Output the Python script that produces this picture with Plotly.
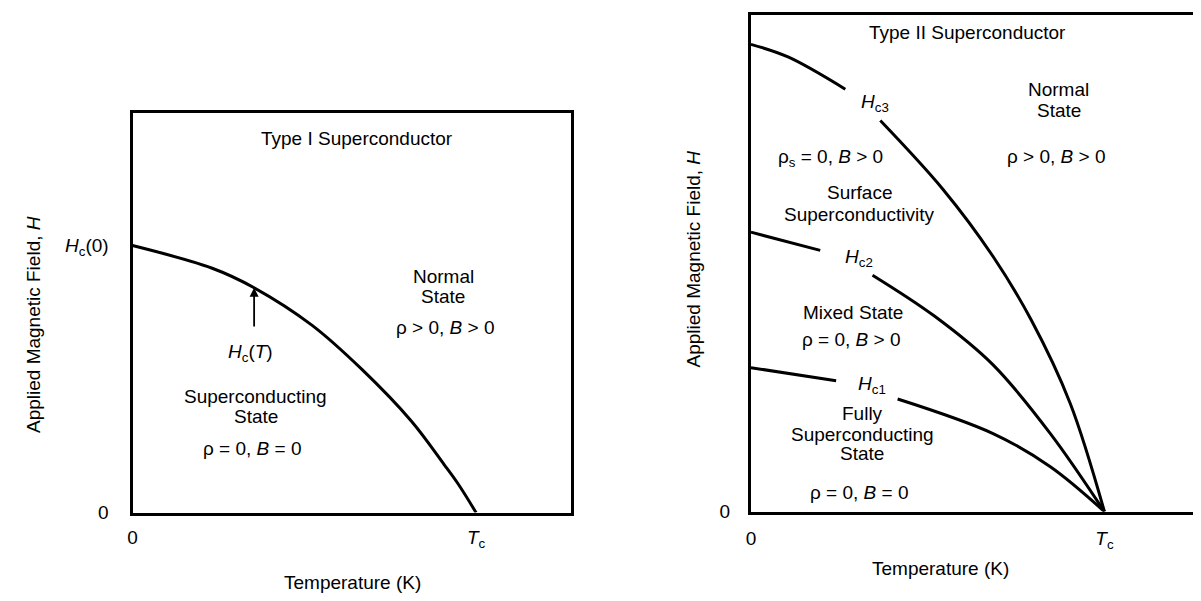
import plotly.graph_objects as go

# ---------------- data ----------------
# Type I: critical field curve Hc(T), T in units of Tc, H in units of Hc(0)
t1_T = [0.0, 0.232, 0.354, 0.522, 0.667, 0.812, 0.907, 0.948, 1.0]
t1_H = [1.0, 0.915, 0.842, 0.702, 0.537, 0.342, 0.180, 0.107, 0.0]

# Type II: three critical field curves (None = gap where the label sits)
hc3_T = [0.0, 0.105, 0.267, None, 0.366, 0.543, 0.685, 0.793, 0.903, 1.0]
hc3_H = [1.0, 0.973, 0.904, None, 0.837, 0.690, 0.546, 0.410, 0.232, 0.0]
hc2_T = [0.0, 0.196, None, 0.344, 0.520, 0.685, 0.847, 1.0]
hc2_H = [0.598, 0.559, None, 0.506, 0.418, 0.314, 0.167, 0.0]
hc1_T = [0.0, 0.241, None, 0.415, 0.685, 0.847, 1.0]
hc1_H = [0.308, 0.280, None, 0.241, 0.167, 0.096, 0.0]

# tick labels
left_xticks = [0, 1]
left_xtext = ["0", "<i>T</i><sub>c</sub>"]
left_yticks = [0, 1]
left_ytext = ["0", "<i>H</i><sub>c</sub>(0)"]
right_xticks = [0, 1]
right_xtext = ["0", "<i>T</i><sub>c</sub>"]
right_yticks = [0]
right_ytext = ["0"]

W, H = 1201, 601
FONT = "Liberation Sans, Arial, Helvetica, sans-serif"
FS = 19
LW = 3

# panel frames (pixels) and where T=Tc / H=max sit on them
L_X0, L_X1, L_Y0, L_Y1 = 120, 560, 107, 514   # left box
L_TC, L_H1 = 465, 242                          # Tc x-pixel, Hc(0) y-pixel
R_X0, R_X1, R_Y0, R_Y1 = 741, 1190, 7, 513     # right box
R_TC, R_H1 = 1096, 37                          # Tc x-pixel, Hc3(0) y-pixel


def dx(a, b):
    return [a / W, b / W]


def dy(top, bottom):
    return [1 - bottom / H, 1 - top / H]


fig = go.Figure()
line = dict(color="black", width=LW, shape="spline", smoothing=1.0)
fig.add_trace(go.Scatter(x=t1_T, y=t1_H, mode="lines", line=line,
                         xaxis="x", yaxis="y", hoverinfo="skip"))
for tx, hy in [(hc3_T, hc3_H), (hc2_T, hc2_H), (hc1_T, hc1_H)]:
    fig.add_trace(go.Scatter(x=tx, y=hy, mode="lines", line=line,
                             connectgaps=False, xaxis="x2", yaxis="y2",
                             hoverinfo="skip"))

axis_common = dict(showgrid=False, zeroline=False, showline=True,
                   linecolor="black", linewidth=LW, ticks="",
                   tickfont=dict(family=FONT, size=FS, color="black"))

fig.update_layout(
    width=W, height=H, margin=dict(l=0, r=0, t=0, b=0),
    paper_bgcolor="white", plot_bgcolor="white", showlegend=False,
    font=dict(family=FONT, size=FS, color="black"),
    xaxis=dict(domain=dx(L_X0, L_X1),
               range=[0, (L_X1 - L_X0) / (L_TC - L_X0)],
               tickmode="array", tickvals=left_xticks, ticktext=left_xtext,
               mirror=True, ticklabelstandoff=6, **axis_common),
    yaxis=dict(domain=dy(L_Y0, L_Y1),
               range=[0, (L_Y1 - L_Y0) / (L_Y1 - L_H1)],
               tickmode="array", tickvals=left_yticks, ticktext=left_ytext,
               mirror=True, ticklabelstandoff=17, **axis_common),
    xaxis2=dict(domain=dx(R_X0, R_X1),
                range=[0, (R_X1 - R_X0) / (R_TC - R_X0)],
                tickmode="array", tickvals=right_xticks, ticktext=right_xtext,
                mirror=True, ticklabelstandoff=8, anchor="y2", **axis_common),
    yaxis2=dict(domain=dy(R_Y0, R_Y1),
                range=[0, (R_Y1 - R_Y0) / (R_Y1 - R_H1)],
                tickmode="array", tickvals=right_yticks, ticktext=right_ytext,
                mirror=False, ticklabelstandoff=14, anchor="x2", **axis_common),
)

# right border of the Type II box (partly faded in the scan)
def ry(py):
    return (R_Y1 - py) / (R_Y1 - R_H1)


fig.add_shape(type="line", xref="x2 domain", yref="y2", x0=1, x1=1,
              y0=0, y1=ry(290), line=dict(color="black", width=LW))
fig.add_shape(type="line", xref="x2 domain", yref="y2", x0=1, x1=1,
              y0=ry(290), y1=ry(100),
              line=dict(color="black", width=1.5, dash="dot"))
fig.add_shape(type="line", xref="x2 domain", yref="y2", x0=1, x1=1,
              y0=ry(20), y1=ry(R_Y0), line=dict(color="black", width=LW))

ann = []


def label(text, px, py, angle=0):
    ann.append(dict(text=text, x=px / W, y=1 - py / H, xref="paper",
                    yref="paper", showarrow=False, textangle=angle,
                    xanchor="center", yanchor="middle",
                    font=dict(family=FONT, size=FS, color="black")))


# ---- Type I panel ----
label("Type I Superconductor", 345, 133)
label("Normal", 432, 274)
label("State", 432, 294)
label("\u03c1 > 0, <i>B</i> > 0", 434, 325)
label("<i>H</i><sub>c</sub>(<i>T</i>)", 238, 351)
label("Superconducting", 244, 396)
label("State", 244, 416)
label("\u03c1 = 0, <i>B</i> = 0", 241, 449)
# arrow pointing at the Hc(T) curve
ann.append(dict(text="", x=0.354, y=0.842, ax=0.354, ay=(L_Y1 - 326) / (L_Y1 - L_H1),
                xref="x", yref="y", axref="x", ayref="y", showarrow=True,
                arrowhead=2, arrowsize=1, arrowwidth=1.8, arrowcolor="black",
                standoff=0, startstandoff=0))

# ---- Type II panel ----
label("Type II Superconductor", 958, 25)
label("<i>H</i><sub>c3</sub>", 866, 97)
label("Normal", 1050, 83)
label("State", 1050, 104)
label("\u03c1 > 0, <i>B</i> > 0", 1048, 151)
label("\u03c1<sub>s</sub> = 0, <i>B</i> > 0", 821, 153)
label("Surface", 850, 188)
label("Superconductivity", 850, 210)
label("<i>H</i><sub>c2</sub>", 850, 255)
label("Mixed State", 844, 310)
label("\u03c1 = 0, <i>B</i> > 0", 842, 338)
label("<i>H</i><sub>c1</sub>", 863, 384)
label("Fully", 853, 413)
label("Superconducting", 853, 434)
label("State", 853, 454)
label("\u03c1 = 0, <i>B</i> = 0", 850, 494)

# ---- axis titles ----
label("Temperature (K)", 341, 585)
label("Temperature (K)", 931, 571)
label("Applied Magnetic Field, <i>H</i>", 20, 322, -90)
label("Applied Magnetic Field, <i>H</i>", 683, 256, -90)

fig.update_layout(annotations=ann)
fig.write_html("out.html")
